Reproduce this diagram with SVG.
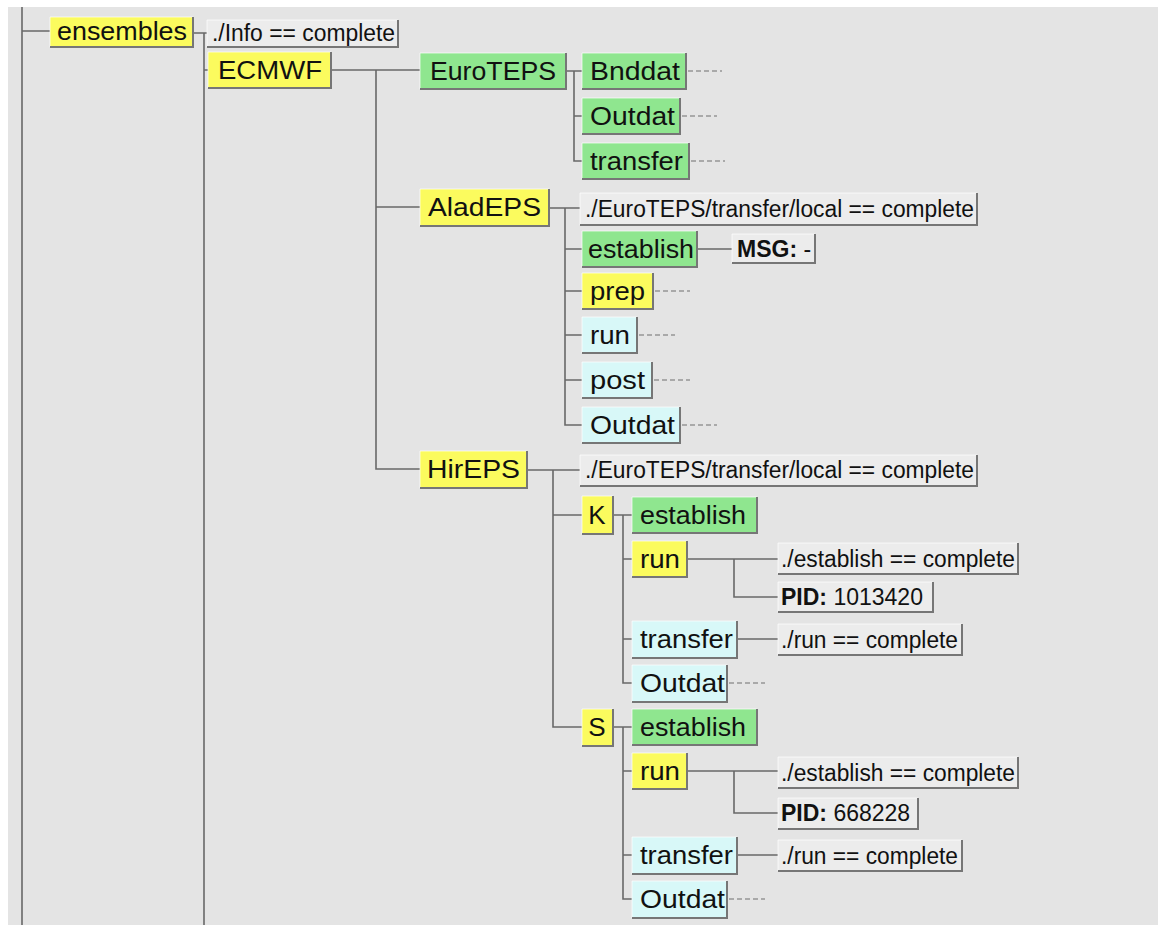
<svg xmlns="http://www.w3.org/2000/svg" width="1158" height="925" viewBox="0 0 1158 925">
<style>
.bg{fill:#e4e4e4}
.y{fill:#fbfb5e}
.g{fill:#8fe68f}
.c{fill:#d8f8f8}
.t{fill:#ececec}
.sh{fill:none;stroke:#767676;stroke-width:2}
.hl{fill:none;stroke:#ffffff;stroke-width:1;opacity:.7}
.n{font-family:"Liberation Sans",Arial,sans-serif;font-size:26px;fill:#111}
.s{font-family:"Liberation Sans",Arial,sans-serif;font-size:23px;fill:#111}
.b{font-weight:bold}
.ln{fill:none;stroke:#686868;stroke-width:1.6}
.ds{fill:none;stroke:#6e6e6e;stroke-width:1.2;stroke-dasharray:5 3}
</style>
<rect class="bg" x="0" y="0" width="1158" height="925"/>
<rect x="0" y="0" width="1158" height="7" fill="#ffffff"/>
<rect x="0" y="0" width="8" height="925" fill="#ffffff"/>

<g id="connectors">
<path class="ln" d="M22 7V925M22 31H50"/>
<path class="ln" d="M193 33H207M204 33V925M204 70H208"/>
<path class="ln" d="M331 70H376V469H420M376 207H420M376 70H420"/>
<path class="ln" d="M566 71H582M574 71V161H582M574 116H582"/>
<path class="ln" d="M549 208H580M565 208V425H582M565 249H582M565 291H582M565 335H582M565 380H582"/>
<path class="ln" d="M697 249H732"/>
<path class="ln" d="M527 470H580M553 470V727H582M553 515H582"/>
<path class="ln" d="M613 515H632M623 515V683H632M623 559H632M623 639H632"/>
<path class="ln" d="M687 559H778M734 559V597H778M737 639H778"/>
<path class="ln" d="M613 727H632M623 727V899H632M623 771H632M623 855H632"/>
<path class="ln" d="M687 771H778M734 771V813H778M737 855H778"/>
<path class="ds" d="M688 71H722M682 116H717M691 161H725M655 291H690M639 335H675M654 380H690M682 425H717M729 683H765M729 899H765"/>
</g>

<g id="ensembles"><rect class="y" x="50" y="17" width="143" height="30"/><path class="hl" d="M50 47V17H193"/><path class="sh" d="M193 17V47H50"/><text class="n" x="57" y="40" textLength="130" lengthAdjust="spacingAndGlyphs">ensembles</text></g>
<g id="info"><rect class="t" x="207" y="20" width="191" height="27"/><path class="hl" d="M207 47V20H398"/><path class="sh" d="M398 20V47H207"/><text class="s" x="212" y="41" textLength="183" lengthAdjust="spacingAndGlyphs">./Info == complete</text></g>
<g id="ECMWF"><rect class="y" x="208" y="52" width="123" height="36"/><path class="hl" d="M208 88V52H331"/><path class="sh" d="M331 52V88H208"/><text class="n" x="218" y="79" textLength="104" lengthAdjust="spacingAndGlyphs">ECMWF</text></g>
<g id="EuroTEPS"><rect class="g" x="420" y="53" width="146" height="36"/><path class="hl" d="M420 89V53H566"/><path class="sh" d="M566 53V89H420"/><text class="n" x="430" y="80" textLength="126" lengthAdjust="spacingAndGlyphs">EuroTEPS</text></g>
<g id="Bnddat"><rect class="g" x="582" y="53" width="104" height="36"/><path class="hl" d="M582 89V53H686"/><path class="sh" d="M686 53V89H582"/><text class="n" x="590" y="80" textLength="90" lengthAdjust="spacingAndGlyphs">Bnddat</text></g>
<g id="EuroTEPS-Outdat"><rect class="g" x="582" y="98" width="98" height="36"/><path class="hl" d="M582 134V98H680"/><path class="sh" d="M680 98V134H582"/><text class="n" x="590" y="125" textLength="85" lengthAdjust="spacingAndGlyphs">Outdat</text></g>
<g id="EuroTEPS-transfer"><rect class="g" x="582" y="143" width="107" height="36"/><path class="hl" d="M582 179V143H689"/><path class="sh" d="M689 143V179H582"/><text class="n" x="590" y="170" textLength="93" lengthAdjust="spacingAndGlyphs">transfer</text></g>

<g id="AladEPS"><rect class="y" x="420" y="189" width="129" height="37"/><path class="hl" d="M420 226V189H549"/><path class="sh" d="M549 189V226H420"/><text class="n" x="428" y="216" textLength="113" lengthAdjust="spacingAndGlyphs">AladEPS</text></g>
<g id="AladEPS-trigger"><rect class="t" x="580" y="193" width="397" height="32"/><path class="hl" d="M580 225V193H977"/><path class="sh" d="M977 193V225H580"/><text class="s" x="585" y="217" textLength="389" lengthAdjust="spacingAndGlyphs">./EuroTEPS/transfer/local == complete</text></g>
<g id="AladEPS-establish"><rect class="g" x="582" y="231" width="115" height="36"/><path class="hl" d="M582 267V231H697"/><path class="sh" d="M697 231V267H582"/><text class="n" x="588" y="258" textLength="106" lengthAdjust="spacingAndGlyphs">establish</text></g>
<g id="MSG"><rect class="t" x="732" y="234" width="83" height="29"/><path class="hl" d="M732 263V234H815"/><path class="sh" d="M815 234V263H732"/><text class="s" x="737" y="257"><tspan class="b">MSG:</tspan> -</text></g>
<g id="AladEPS-prep"><rect class="y" x="582" y="273" width="71" height="36"/><path class="hl" d="M582 309V273H653"/><path class="sh" d="M653 273V309H582"/><text class="n" x="590" y="300" textLength="55" lengthAdjust="spacingAndGlyphs">prep</text></g>
<g id="AladEPS-run"><rect class="c" x="582" y="317" width="55" height="36"/><path class="hl" d="M582 353V317H637"/><path class="sh" d="M637 317V353H582"/><text class="n" x="590" y="344" textLength="40" lengthAdjust="spacingAndGlyphs">run</text></g>
<g id="AladEPS-post"><rect class="c" x="582" y="362" width="70" height="36"/><path class="hl" d="M582 398V362H652"/><path class="sh" d="M652 362V398H582"/><text class="n" x="590" y="389" textLength="55" lengthAdjust="spacingAndGlyphs">post</text></g>
<g id="AladEPS-Outdat"><rect class="c" x="582" y="407" width="98" height="36"/><path class="hl" d="M582 443V407H680"/><path class="sh" d="M680 407V443H582"/><text class="n" x="590" y="434" textLength="85" lengthAdjust="spacingAndGlyphs">Outdat</text></g>

<g id="HirEPS"><rect class="y" x="420" y="451" width="107" height="37"/><path class="hl" d="M420 488V451H527"/><path class="sh" d="M527 451V488H420"/><text class="n" x="427" y="478" textLength="93" lengthAdjust="spacingAndGlyphs">HirEPS</text></g>
<g id="HirEPS-trigger"><rect class="t" x="580" y="455" width="397" height="31"/><path class="hl" d="M580 486V455H977"/><path class="sh" d="M977 455V486H580"/><text class="s" x="585" y="478" textLength="389" lengthAdjust="spacingAndGlyphs">./EuroTEPS/transfer/local == complete</text></g>

<g id="K"><rect class="y" x="582" y="496" width="31" height="38"/><path class="hl" d="M582 534V496H613"/><path class="sh" d="M613 496V534H582"/><text class="n" x="597" y="524" text-anchor="middle">K</text></g>
<g id="K-establish"><rect class="g" x="632" y="497" width="125" height="36"/><path class="hl" d="M632 533V497H757"/><path class="sh" d="M757 497V533H632"/><text class="n" x="640" y="524" textLength="106" lengthAdjust="spacingAndGlyphs">establish</text></g>
<g id="K-run"><rect class="y" x="632" y="541" width="55" height="36"/><path class="hl" d="M632 577V541H687"/><path class="sh" d="M687 541V577H632"/><text class="n" x="640" y="568" textLength="40" lengthAdjust="spacingAndGlyphs">run</text></g>
<g id="K-run-trigger"><rect class="t" x="778" y="543" width="240" height="31"/><path class="hl" d="M778 574V543H1018"/><path class="sh" d="M1018 543V574H778"/><text class="s" x="781" y="567" textLength="234" lengthAdjust="spacingAndGlyphs">./establish == complete</text></g>
<g id="K-run-pid"><rect class="t" x="778" y="582" width="155" height="30"/><path class="hl" d="M778 612V582H933"/><path class="sh" d="M933 582V612H778"/><text class="s" x="781" y="605"><tspan class="b">PID:</tspan> 1013420</text></g>
<g id="K-transfer"><rect class="c" x="632" y="621" width="105" height="37"/><path class="hl" d="M632 658V621H737"/><path class="sh" d="M737 621V658H632"/><text class="n" x="640" y="648" textLength="93" lengthAdjust="spacingAndGlyphs">transfer</text></g>
<g id="K-transfer-trigger"><rect class="t" x="778" y="624" width="184" height="31"/><path class="hl" d="M778 655V624H962"/><path class="sh" d="M962 624V655H778"/><text class="s" x="781" y="648" textLength="177" lengthAdjust="spacingAndGlyphs">./run == complete</text></g>
<g id="K-Outdat"><rect class="c" x="632" y="665" width="95" height="37"/><path class="hl" d="M632 702V665H727"/><path class="sh" d="M727 665V702H632"/><text class="n" x="640" y="692" textLength="85" lengthAdjust="spacingAndGlyphs">Outdat</text></g>

<g id="S"><rect class="y" x="582" y="709" width="31" height="37"/><path class="hl" d="M582 746V709H613"/><path class="sh" d="M613 709V746H582"/><text class="n" x="597" y="736" text-anchor="middle">S</text></g>
<g id="S-establish"><rect class="g" x="632" y="709" width="125" height="36"/><path class="hl" d="M632 745V709H757"/><path class="sh" d="M757 709V745H632"/><text class="n" x="640" y="736" textLength="106" lengthAdjust="spacingAndGlyphs">establish</text></g>
<g id="S-run"><rect class="y" x="632" y="753" width="55" height="36"/><path class="hl" d="M632 789V753H687"/><path class="sh" d="M687 753V789H632"/><text class="n" x="640" y="780" textLength="40" lengthAdjust="spacingAndGlyphs">run</text></g>
<g id="S-run-trigger"><rect class="t" x="778" y="757" width="240" height="31"/><path class="hl" d="M778 788V757H1018"/><path class="sh" d="M1018 757V788H778"/><text class="s" x="781" y="781" textLength="234" lengthAdjust="spacingAndGlyphs">./establish == complete</text></g>
<g id="S-run-pid"><rect class="t" x="778" y="798" width="140" height="31"/><path class="hl" d="M778 829V798H918"/><path class="sh" d="M918 798V829H778"/><text class="s" x="781" y="821"><tspan class="b">PID:</tspan> 668228</text></g>
<g id="S-transfer"><rect class="c" x="632" y="837" width="105" height="37"/><path class="hl" d="M632 874V837H737"/><path class="sh" d="M737 837V874H632"/><text class="n" x="640" y="864" textLength="93" lengthAdjust="spacingAndGlyphs">transfer</text></g>
<g id="S-transfer-trigger"><rect class="t" x="778" y="840" width="184" height="31"/><path class="hl" d="M778 871V840H962"/><path class="sh" d="M962 840V871H778"/><text class="s" x="781" y="864" textLength="177" lengthAdjust="spacingAndGlyphs">./run == complete</text></g>
<g id="S-Outdat"><rect class="c" x="632" y="881" width="95" height="37"/><path class="hl" d="M632 918V881H727"/><path class="sh" d="M727 881V918H632"/><text class="n" x="640" y="908" textLength="85" lengthAdjust="spacingAndGlyphs">Outdat</text></g>
</svg>
